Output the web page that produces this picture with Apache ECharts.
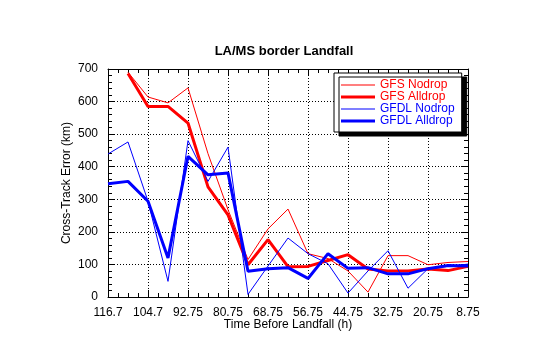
<!DOCTYPE html>
<html>
<head>
<meta charset="utf-8">
<script src="https://cdn.jsdelivr.net/npm/echarts@6/dist/echarts.min.js"></script>
<style>html,body{margin:0;padding:0;background:#fff}#c{width:540px;height:344px}</style>
</head>
<body>
<div id="c"></div>
<script>
// Hours before landfall for each forecast
var hours = [116.75,110.75,104.75,98.75,92.75,86.75,80.75,74.75,68.75,62.75,56.75,50.75,44.75,38.75,32.75,26.75,20.75,14.75,8.75];
var gfsNodrop   = [null,690,614,596,642,440,268,115,209,270,133,118,80,15,127,127,99,106,109];
var gfsAlldrop  = [null,686,585,585,534,338,252,99,176,93,94,112,130,86,80,80,86,81,94];
var gfdlNodrop  = [439,476,294,48,480,355,460,8,95,181,133,102,12,80,142,27,87,94,101];
var gfdlAlldrop = [348,355,294,120,432,375,381,79,87,90,57,133,88,90,71,71,87,97,95];
var xTickLabels = ['116.7','104.7','92.75','80.75','68.75','56.75','44.75','32.75','20.75','8.75'];
var startHour = 116.75;

var FONT = 'Liberation Sans, Arial, sans-serif';
function pts(vals){
  var out = [];
  for (var i=0;i<hours.length;i++){
    if (vals[i] !== null) out.push([startHour - hours[i], vals[i]]);
  }
  return out;
}
var chart = echarts.init(document.getElementById('c'), null, {renderer:'canvas'});
var tickCommon = {show:true, inside:true, length:7, lineStyle:{color:'#000', width:1}};
var minorCommon = {show:true, length:4, lineStyle:{color:'#000', width:1}};
function xAx(pos, labels, grid){
  return {
    type:'value', position:pos, min:0, max:108, interval:12,
    axisLine:{show:true, onZero:false, lineStyle:{color:'#000', width:1}},
    axisTick:tickCommon,
    minorTick:Object.assign({splitNumber:4}, minorCommon),
    axisLabel:{show:labels, color:'#000', fontFamily:FONT, fontSize:12, margin:10,
      formatter:function(v){ var k=Math.round(v/12); return xTickLabels[k]; }},
    splitLine:{show:grid, lineStyle:{color:'#000', width:1, type:[1,2]}},
    minorSplitLine:{show:false}
  };
}
function yAx(pos, labels, grid){
  return {
    type:'value', position:pos, min:0, max:700, interval:100,
    axisLine:{show:true, onZero:false, lineStyle:{color:'#000', width:1}},
    axisTick:tickCommon,
    minorTick:Object.assign({splitNumber:5}, minorCommon),
    axisLabel:{show:labels, color:'#000', fontFamily:FONT, fontSize:12, margin:10},
    splitLine:{show:grid, lineStyle:{color:'#000', width:1, type:[1,2]}}
  };
}
function ser(name, vals, color, w){
  return {name:name, type:'line', data:pts(vals), symbol:'none', showSymbol:false,
    xAxisIndex:0, yAxisIndex:0, lineStyle:{color:color, width:w}, itemStyle:{color:color},
    animation:false, z:2};
}
var thinIcon = 'path://M0,0 H34 V1 H0 Z';
var thickIcon = 'path://M0,0 H34 V3 H0 Z';
chart.setOption({
  animation:false,
  backgroundColor:'#fff',
  grid:{left:108, right:72, top:69, bottom:47, containLabel:false},
  xAxis:[xAx('bottom', true, true), xAx('top', false, false)],
  yAxis:[yAx('left', true, true), yAx('right', false, false)],
  legend:{
    orient:'vertical', left:334, top:73, padding:[6,7,5,7],
    itemWidth:34, itemHeight:11, itemGap:0, symbolKeepAspect:true,
    backgroundColor:'#fff', borderColor:'#000', borderWidth:1, borderRadius:0,
    shadowColor:'#000', shadowOffsetX:5, shadowOffsetY:4, shadowBlur:0,
    itemStyle:{borderWidth:0},
    textStyle:{fontFamily:FONT, fontSize:12, lineHeight:11},
    selectedMode:false,
    data:[
      {name:'GFS Nodrop', icon:thinIcon, textStyle:{color:'#ff0000'}},
      {name:'GFS Alldrop', icon:thickIcon, textStyle:{color:'#ff0000'}},
      {name:'GFDL Nodrop', icon:thinIcon, textStyle:{color:'#0000ff'}},
      {name:'GFDL Alldrop', icon:thickIcon, textStyle:{color:'#0000ff'}}
    ]
  },
  graphic:[
    {type:'text', x:284, y:51, style:{text:'LA/MS border Landfall', font:'bold 13px '+FONT, fill:'#000', textAlign:'center', textVerticalAlign:'middle'}},
    {type:'text', x:288, y:325, style:{text:'Time Before Landfall (h)', font:'12px '+FONT, fill:'#000', textAlign:'center', textVerticalAlign:'middle'}},
    {type:'text', x:67, y:183, rotation:Math.PI/2, style:{text:'Cross-Track Error (km)', font:'12px '+FONT, fill:'#000', textAlign:'center', textVerticalAlign:'middle'}}
  ],
  series:[
    ser('GFS Nodrop', gfsNodrop, '#ff0000', 1),
    ser('GFS Alldrop', gfsAlldrop, '#ff0000', 3),
    ser('GFDL Nodrop', gfdlNodrop, '#0000ff', 1),
    ser('GFDL Alldrop', gfdlAlldrop, '#0000ff', 3)
  ]
});
</script>
</body>
</html>
